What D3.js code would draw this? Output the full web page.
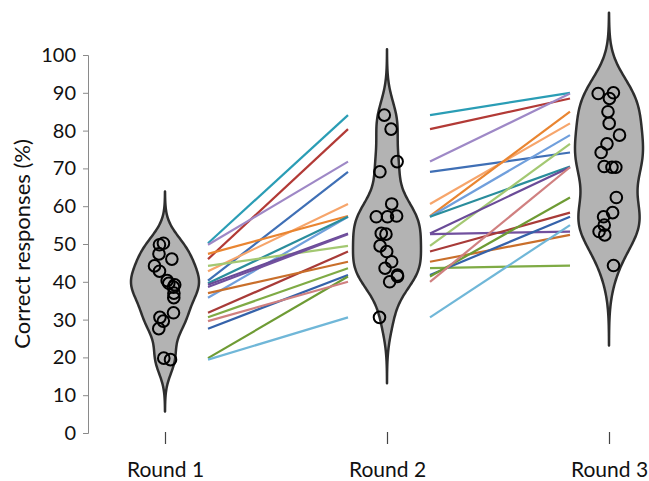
<!DOCTYPE html>
<html>
<head>
<meta charset="utf-8">
<script src="https://cdn.jsdelivr.net/npm/d3@7"></script>
<style>
  html, body { margin: 0; padding: 0; background: #fff; }
  svg { display: block; }
  text { font-family: Lato, "Open Sans", sans-serif; fill: #111; }
</style>
</head>
<body>
<svg id="chart" width="649" height="481"></svg>
<script>
// ---------- data ----------
const rounds = ["Round 1", "Round 2", "Round 3"];
const yTicks = [0, 10, 20, 30, 40, 50, 60, 70, 80, 90, 100];
const yTitle = "Correct responses (%)";

// one entry per participant (18), same order in each array
const round1 = [50.2, 46.0, 49.8, 40.3, 42.8, 47.4, 35.8, 39.6, 44.2, 39.2, 38.6, 31.8, 37.0, 30.6, 27.6, 19.8, 29.6, 19.4];
const round2 = [84.1, 80.4, 71.8, 69.1, 60.6, 57.4, 57.2, 57.2, 49.5, 52.8, 52.6, 48.0, 45.3, 43.6, 41.8, 41.4, 40.0, 30.6];
const round3 = [90.0, 88.5, 89.8, 74.2, 81.9, 85.0, 78.8, 70.5, 76.5, 70.3, 53.3, 58.3, 52.4, 44.3, 57.2, 62.3, 70.3, 55.0];
const participantColors = [
  "#2a9db5", "#b23a36", "#9e88c6", "#3f6fb5", "#f6a56b", "#e98531",
  "#709fdc", "#2a8d9c", "#a3c872", "#6a4b98", "#71509e", "#a83b38",
  "#c96f2b", "#7fab45", "#3562aa", "#6e9b34", "#d08080", "#70b7d8"
];

// ---------- layout ----------
const svg = d3.select("#chart");
const x = d3.scalePoint().domain(rounds).range([165, 609]);
const y = d3.scaleLinear().domain([0, 100]).range([433, 55]);
const axisX = 88;
const violinHalf = 34;
const lineStartGap = 43, lineEndGap = 39;

const data = [round1, round2, round3];

// ---------- y axis ----------
const yAxisG = svg.append("g").attr("transform", `translate(${axisX},0)`)
  .call(d3.axisLeft(y).tickValues(yTicks).tickSize(5).tickPadding(7));
yAxisG.select(".domain").attr("stroke", "#8a8a8a").attr("stroke-width", 1);
yAxisG.selectAll(".tick line").attr("stroke", "#8a8a8a");
yAxisG.selectAll(".tick text")
  .style("font-family", "Lato, 'Open Sans', sans-serif")
  .style("font-size", "20px").attr("fill", "#111");

svg.append("text")
  .attr("transform", `translate(30,${y(50)}) rotate(-90)`)
  .attr("text-anchor", "middle")
  .style("font-size", "22px")
  .text(yTitle);

// ---------- x axis (ticks + labels only) ----------
const xAxisG = svg.append("g").attr("transform", `translate(0,432)`)
  .call(d3.axisBottom(x).tickSize(12).tickPadding(18));
xAxisG.select(".domain").remove();
xAxisG.selectAll(".tick line").attr("stroke", "#444").attr("stroke-width", 1.2);
xAxisG.selectAll(".tick text")
  .style("font-family", "Lato, 'Open Sans', sans-serif")
  .style("font-size", "21px").attr("fill", "#111");

// ---------- connecting lines ----------
const linesG = svg.append("g");
for (let r = 0; r < rounds.length - 1; r++) {
  data[r].forEach((v, i) => {
    linesG.append("line")
      .attr("x1", x(rounds[r]) + lineStartGap)
      .attr("y1", y(v))
      .attr("x2", x(rounds[r + 1]) - lineEndGap)
      .attr("y2", y(data[r + 1][i]))
      .attr("stroke", participantColors[i])
      .attr("stroke-width", 2.2);
  });
}

// ---------- violins (Gaussian KDE) ----------
function kdeViolin(values) {
  const n = values.length;
  const sd = d3.deviation(values);
  const sorted = values.slice().sort(d3.ascending);
  const iqr = d3.quantile(sorted, 0.75) - d3.quantile(sorted, 0.25);
  const bw = 0.8 * Math.min(sd, iqr / 1.34) * Math.pow(n, -0.2);
  const lo = d3.min(values) - 3.3 * bw, hi = d3.max(values) + 3.3 * bw;
  const pts = d3.range(0, 141).map(k => {
    const t = lo + (hi - lo) * k / 140;
    const d = d3.sum(values, v => Math.exp(-0.5 * ((t - v) / bw) ** 2));
    return [t, d];
  });
  const maxD = d3.max(pts, p => p[1]);
  return pts.map(p => [p[0], p[1] / maxD]);
}

const violinG = svg.append("g");
data.forEach((vals, r) => {
  const cx = x(rounds[r]);
  const dens = kdeViolin(vals);
  const area = d3.area()
    .y(d => y(d[0]))
    .x0(d => cx - d[1] * violinHalf)
    .x1(d => cx + d[1] * violinHalf)
    .curve(d3.curveCatmullRom);
  violinG.append("path")
    .datum(dens)
    .attr("d", area)
    .attr("fill", "#b3b3b3")
    .attr("stroke", "#2e2e2e")
    .attr("stroke-width", 2.5)
    .attr("stroke-linejoin", "round");
});

// ---------- jittered points ----------
const jitter = d3.randomUniform.source(d3.randomLcg(0.4217))(-11, 11);
const pointsG = svg.append("g");
data.forEach((vals, r) => {
  const cx = x(rounds[r]);
  vals.forEach(v => {
    pointsG.append("circle")
      .attr("cx", cx + jitter())
      .attr("cy", y(v))
      .attr("r", 5.8)
      .attr("fill", "none")
      .attr("stroke", "#000")
      .attr("stroke-width", 2);
  });
});
</script>
</body>
</html>
